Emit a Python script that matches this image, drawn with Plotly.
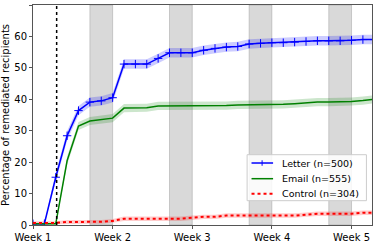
import plotly.graph_objects as go

days = list(range(0, 31))
letter = [0.4, 0.4, 15.2, 28.4, 36.4, 39.1, 39.5, 40.5, 51.2, 51.2, 51.2, 53.0, 54.8, 54.8, 54.8,
          55.6, 56.2, 56.6, 56.8, 57.6, 57.8, 58.0, 58.0, 58.2, 58.4, 58.6, 58.6, 58.6, 58.8, 59.0, 59.0]
email = [0.36, 0.36, 0.36, 20.5, 31.5, 33.1, 33.5, 34.0, 37.2, 37.3, 37.3, 37.9, 37.9, 38.0, 38.0,
         38.0, 38.0, 38.0, 38.2, 38.2, 38.2, 38.2, 38.4, 38.6, 38.9, 39.1, 39.1, 39.1, 39.3, 39.6, 40.0]
control = [0.66, 0.66, 0.66, 0.99, 0.99, 0.99, 1.0, 1.3, 2.0, 2.0, 2.0, 2.0, 2.0, 2.0, 2.3,
           2.6, 2.6, 3.0, 3.0, 3.0, 3.0, 3.0, 3.0, 3.0, 3.3, 3.6, 3.6, 3.6, 3.6, 3.9, 3.9]
letter_err = [0.3, 0.3, 1.5, 1.5, 1.5, 1.5, 1.5, 1.5, 1.5, 1.5, 1.5, 1.5, 1.5, 1.5, 1.5,
              1.5, 1.5, 1.5, 1.5, 1.5, 1.5, 1.5, 1.5, 1.5, 1.5, 1.5, 1.5, 1.5, 1.5, 1.5, 1.5]
email_err = [0.3, 0.3, 0.3, 1.3, 1.3, 1.3, 1.3, 1.3, 1.3, 1.3, 1.3, 1.3, 1.3, 1.3, 1.3,
             1.3, 1.3, 1.3, 1.3, 1.3, 1.3, 1.3, 1.3, 1.3, 1.3, 1.3, 1.3, 1.3, 1.3, 1.3, 1.3]
control_err = [0.5, 0.5, 0.5, 0.6, 0.6, 0.6, 0.6, 0.6, 0.7, 0.7, 0.7, 0.7, 0.7, 0.7, 0.7,
               0.7, 0.7, 0.7, 0.7, 0.7, 0.7, 0.7, 0.7, 0.7, 0.7, 0.7, 0.7, 0.7, 0.7, 0.7, 0.7]
weekend_starts = [5, 12, 19, 26]
weekend_ends = [7, 14, 21, 28]
send_day = 2.08
week_ticks = [0, 7, 14, 21, 28]
week_labels = ["Week 1", "Week 2", "Week 3", "Week 4", "Week 5"]
series_names = ["Letter (n=500)", "Email (n=555)", "Control (n=304)"]

series = [
    (series_names[0], letter, letter_err, "#0000ff", "rgba(0,0,255,0.2)", "solid", True),
    (series_names[1], email, email_err, "#008000", "rgba(0,128,0,0.2)", "solid", False),
    (series_names[2], control, control_err, "#ff0000", "rgba(255,0,0,0.2)", "dot", False),
]

fig = go.Figure()
for name, vals, err, col, fcol, dash, mk in series:
    lo = [v - e for v, e in zip(vals, err)]
    hi = [v + e for v, e in zip(vals, err)]
    fig.add_trace(go.Scatter(x=days, y=lo, mode="lines", line=dict(width=0),
                             showlegend=False, hoverinfo="skip"))
    fig.add_trace(go.Scatter(x=days, y=hi, mode="lines", line=dict(width=0),
                             fill="tonexty", fillcolor=fcol, showlegend=False, hoverinfo="skip"))
for name, vals, err, col, fcol, dash, mk in series:
    fig.add_trace(go.Scatter(
        x=days, y=vals, name=name, showlegend=False,
        mode="lines+markers" if mk else "lines",
        line=dict(color=col, width=2 if dash == "dot" else 1.5, dash=dash),
        marker=dict(symbol="cross-thin", size=6, line=dict(color=col, width=1), color=col),
    ))

for s, e in zip(weekend_starts, weekend_ends):
    fig.add_shape(type="rect", xref="x", yref="paper", x0=s, x1=e, y0=0, y1=1,
                  fillcolor="rgba(128,128,128,0.3)", line=dict(color="rgba(128,128,128,0.35)", width=1),
                  layer="below")
fig.add_shape(type="line", xref="x", yref="paper", x0=send_day, x1=send_day, y0=0, y1=1,
              line=dict(color="black", width=1.5, dash="dot"))

# custom legend (matplotlib-like compact layout)
fig.add_shape(type="rect", xref="paper", yref="paper", x0=0.6316, x1=0.9835, y0=0.1105, y1=0.3195,
              fillcolor="rgba(255,255,255,0.85)", line=dict(color="#cccccc", width=1), layer="above")
row_y = [0.2818, 0.2105, 0.1423]
for (name, vals, err, col, fcol, dash, mk), ry in zip(series, row_y):
    fig.add_shape(type="line", xref="paper", yref="paper", x0=0.6446, x1=0.7082, y0=ry, y1=ry,
                  line=dict(color=col, width=2 if dash == "dot" else 1.5, dash=dash), layer="above")
    if mk:
        fig.add_shape(type="line", xref="paper", yref="paper", x0=0.6758, x1=0.6758,
                      y0=ry - 0.0125, y1=ry + 0.0125, line=dict(color=col, width=1), layer="above")
    fig.add_annotation(text=name, xref="paper", yref="paper", x=0.728, y=ry, xanchor="left",
                       yanchor="middle", showarrow=False, font=dict(size=9.5, color="black"))

fig.update_layout(
    width=374, height=242,
    margin=dict(l=33, r=2, t=5, b=17),
    plot_bgcolor="white", paper_bgcolor="white",
    font=dict(family="DejaVu Sans", size=10, color="black"),
    showlegend=False,
    xaxis=dict(range=[0, 29.8], tickvals=week_ticks, ticktext=week_labels, automargin=False,
               showgrid=False, zeroline=False, showline=True, linecolor="#555555", linewidth=1,
               mirror=True, ticks="outside", ticklen=3, tickcolor="#555555"),
    yaxis=dict(range=[0, 70], dtick=10, showgrid=False, zeroline=False, showline=True,
               automargin=False,
               linecolor="#555555", linewidth=1, mirror=True, ticks="outside", ticklen=3,
               tickcolor="#555555",
               title=dict(text="Percentage of remediated recipients", font=dict(size=10))),
)

fig.write_html("out.html", config={"displayModeBar": False},
               post_script="document.body.style.margin='0';")
